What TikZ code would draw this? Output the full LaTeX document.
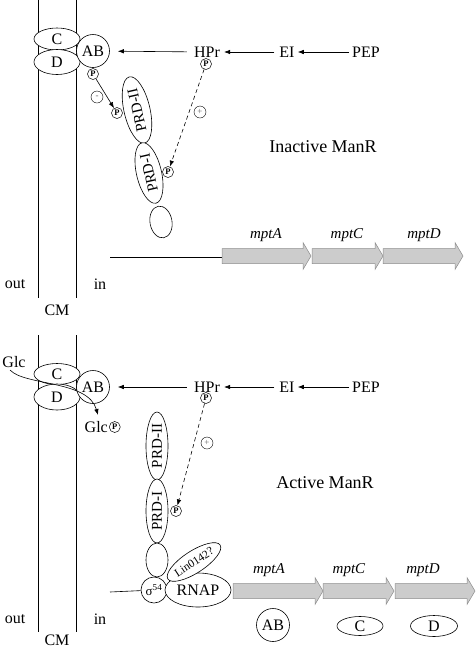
\documentclass[tikz,border=0pt]{standalone}
\usepackage{fontspec}
\setmainfont{Liberation Serif}
\usetikzlibrary{shapes.geometric,arrows.meta}
\tikzset{
  txt/.style={inner sep=1pt,font=\fontsize{16}{18}\selectfont},
  ttl/.style={inner sep=1pt,font=\fontsize{18}{20}\selectfont},
  gname/.style={inner sep=1pt,font=\fontsize{15}{17}\selectfont\itshape},
  prot/.style={ellipse,draw,fill=white,inner sep=0pt,line width=0.6pt,font=\fontsize{16}{18}\selectfont},
  protc/.style={circle,draw,fill=white,inner sep=0pt,line width=0.6pt,font=\fontsize{16}{18}\selectfont},
  pc/.style={circle,draw,fill=white,inner sep=0pt,minimum size=11pt,line width=0.5pt,font=\fontsize{8.5}{8.5}\selectfont\bfseries},
  sign/.style={circle,draw,inner sep=0pt,minimum size=12pt,line width=0.4pt,text=black!60,font=\fontsize{9}{9}\selectfont},
  arr/.style={line width=0.6pt,-{Latex[length=6pt,width=4.5pt]}},
  darr/.style={arr,dashed,dash pattern=on 4pt off 3pt},
  membrane/.style={line width=0.6pt},
  dna/.style={line width=0.6pt},
  genebox/.style={draw=black!45,fill=black!20,line width=0.5pt}
}
\newcommand\genearrow[3]{%
  \draw[genebox] (#1,{#3-7.5}) -- ({#2-8},{#3-7.5}) -- ({#2-8},{#3-13.5}) -- (#2,#3)
    -- ({#2-8},{#3+13.5}) -- ({#2-8},{#3+7.5}) -- (#1,{#3+7.5}) -- cycle;}
\begin{document}
\begin{tikzpicture}[x=1pt,y=-1pt]
\useasboundingbox (0,0) rectangle (475,649);
% ================= upper panel =================
\coordinate (mLt1) at (38,0); \coordinate (mLb1) at (38,298);
\coordinate (mRt1) at (76,0); \coordinate (mRb1) at (76,298);
\draw[membrane] (mLt1) -- (mLb1);
\draw[membrane] (mRt1) -- (mRb1);
\node[txt] (cm1) at (57,310) {CM};
\node[txt] (out1) at (15,284) {out};
\node[txt] (in1) at (100,284) {in};

\node[prot,minimum width=46pt,minimum height=22pt] (C1) at (57,39) {C};
\node[prot,minimum width=46pt,minimum height=25pt] (D1) at (57,62) {D};
\node[protc,minimum size=33pt] (AB1) at (93,51) {AB};
\node[pc] (PAB1) at (93,74) {P};
\node[sign] (minus1) at (97,97) {-};

\node[prot,minimum width=68pt,minimum height=26pt,rotate=103,font=\fontsize{15}{17}\selectfont] (PRDII1) at (137,110) {PRD-II};
\node[prot,minimum width=62pt,minimum height=25pt,rotate=103,font=\fontsize{15}{17}\selectfont] (PRDI1) at (149,173) {PRD-I};
\node[prot,minimum width=32pt,minimum height=22pt,rotate=100] (small1) at (161,222) {};
\node[pc] (PPRDII1) at (117,113) {P};
\node[pc] (PPRDI1) at (168,172) {P};

\node[txt] (HPr1) at (207,52) {HPr};
\node[pc] (PHPr1) at (206,64) {P};
\node[txt] (EI1) at (287,52) {EI};
\node[txt] (PEP1) at (366,52) {PEP};
\node[sign] (plus1) at (200,112) {+};
\node[ttl] (title1) at (323,147) {Inactive ManR};

\draw[arr,shorten <=2pt,shorten >=2pt] (PEP1) -- (EI1);
\draw[arr,shorten <=4pt,shorten >=3pt] (EI1) -- (HPr1);
\draw[arr,shorten <=6pt,shorten >=8pt] (HPr1) -- (AB1);
\draw[arr] (PAB1) -- (PPRDII1);
\draw[darr] (PHPr1) -- (PPRDI1);

\coordinate (dnaS1) at (110,257);
\coordinate (geneA1) at (222,257);
\draw[dna] (dnaS1) -- (geneA1);
\genearrow{222}{311}{256}
\genearrow{312}{383}{256}
\genearrow{383}{463}{256}
\node[gname] (mptA1) at (266,235) {mptA};
\node[gname] (mptC1) at (347,235) {mptC};
\node[gname] (mptD1) at (424,235) {mptD};

% ================= lower panel =================
\coordinate (mLt2) at (38,335); \coordinate (mLb2) at (38,632);
\coordinate (mRt2) at (76,335); \coordinate (mRb2) at (76,632);
\draw[membrane] (mLt2) -- (mLb2);
\draw[membrane] (mRt2) -- (mRb2);
\node[txt] (cm2) at (57,640) {CM};
\node[txt] (out2) at (15,619) {out};
\node[txt] (in2) at (100,619) {in};

\node[prot,minimum width=46pt,minimum height=21pt] (C2) at (57,374) {C};
\node[prot,minimum width=46pt,minimum height=26pt] (D2) at (57,397) {D};
\node[protc,minimum size=33pt] (AB2) at (93,387) {AB};

\node[txt] (Glc) at (14,362) {Glc};
\node[txt,anchor=east] (GlcP) at (109,427) {Glc};
\node[pc,anchor=west] (GlcPP) at (GlcP.east) {P};
\coordinate (GlcStart) at (10,370);
\coordinate (GlcEnd) at (98,415);
\draw[arr] (GlcStart) .. controls (25,386) and (88,380) .. (GlcEnd);

\node[txt] (HPr2) at (207,387) {HPr};
\node[pc] (PHPr2) at (206,398) {P};
\node[txt] (EI2) at (287,387) {EI};
\node[txt] (PEP2) at (366,387) {PEP};
\node[sign] (plus2) at (207,443) {+};
\node[ttl] (title2) at (325,483) {Active ManR};

\node[prot,minimum width=68pt,minimum height=22pt,rotate=90,font=\fontsize{15}{17}\selectfont] (PRDII2) at (157,446) {PRD-II};
\node[prot,minimum width=64pt,minimum height=22pt,rotate=90,font=\fontsize{15}{17}\selectfont] (PRDI2) at (157,511) {PRD-I};
\node[pc] (PPRDI2) at (176,511) {P};
\node[prot,minimum width=34pt,minimum height=22pt,rotate=90] (small2) at (157,560) {};
\node[protc,minimum size=26pt,font=\fontsize{13}{14}\selectfont] (sigma) at (154,590) {σ\textsuperscript{54}};
\node[prot,minimum width=66pt,minimum height=34pt] (RNAP) at (198,590) {RNAP};
\node[prot,minimum width=60pt,minimum height=22pt,rotate=33,font=\fontsize{11.5}{12}\selectfont] (Lin) at (194,562) {Lin0142?};

\draw[arr,shorten <=2pt,shorten >=2pt] (PEP2) -- (EI2);
\draw[arr,shorten <=4pt,shorten >=3pt] (EI2) -- (HPr2);
\draw[arr,shorten <=6pt,shorten >=8pt] (HPr2) -- (AB2);
\draw[darr] (PHPr2) -- (PPRDI2);

\coordinate (dnaS2) at (110,592);
\draw[dna] (dnaS2) -- (sigma);
\genearrow{233}{323}{591}
\genearrow{323}{394}{591}
\genearrow{395}{475}{591}
\node[gname] (mptA2) at (269,570) {mptA};
\node[gname] (mptC2) at (349,570) {mptC};
\node[gname] (mptD2) at (423,570) {mptD};

\node[protc,minimum size=33pt] (AB3) at (273,625) {AB};
\node[prot,minimum width=46pt,minimum height=19pt] (C3) at (360,626) {C};
\node[prot,minimum width=47pt,minimum height=21pt] (D3) at (434,626) {D};
\end{tikzpicture}
\end{document}
